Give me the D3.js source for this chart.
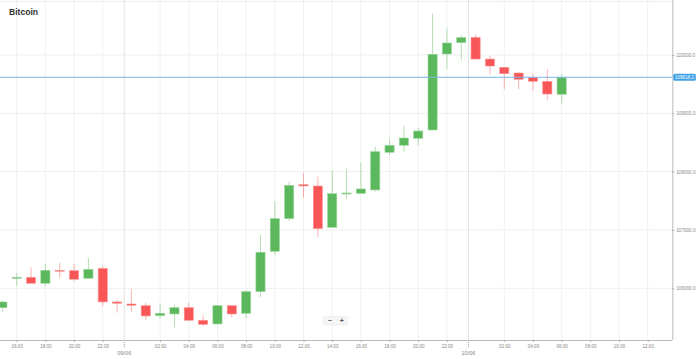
<!DOCTYPE html>
<html>
<head>
<meta charset="utf-8">
<script src="https://cdn.jsdelivr.net/npm/d3@7"></script>
<style>
  body { margin: 0; background: #fff; }
  svg { display: block; font-family: "Liberation Sans", Arial, sans-serif; }
</style>
</head>
<body>
<script>
// hourly candles, 08/06 15:00 -> 10/06 06:00
const times = [
  "2025-06-08T15:00Z", "2025-06-08T16:00Z", "2025-06-08T17:00Z", "2025-06-08T18:00Z", "2025-06-08T19:00Z",
  "2025-06-08T20:00Z", "2025-06-08T21:00Z", "2025-06-08T22:00Z", "2025-06-08T23:00Z",
  "2025-06-09T00:00Z", "2025-06-09T01:00Z", "2025-06-09T02:00Z", "2025-06-09T03:00Z", "2025-06-09T04:00Z",
  "2025-06-09T05:00Z", "2025-06-09T06:00Z", "2025-06-09T07:00Z", "2025-06-09T08:00Z", "2025-06-09T09:00Z",
  "2025-06-09T10:00Z", "2025-06-09T11:00Z", "2025-06-09T12:00Z", "2025-06-09T13:00Z", "2025-06-09T14:00Z",
  "2025-06-09T15:00Z", "2025-06-09T16:00Z", "2025-06-09T17:00Z", "2025-06-09T18:00Z", "2025-06-09T19:00Z",
  "2025-06-09T20:00Z", "2025-06-09T21:00Z", "2025-06-09T22:00Z", "2025-06-09T23:00Z",
  "2025-06-10T00:00Z", "2025-06-10T01:00Z", "2025-06-10T02:00Z", "2025-06-10T03:00Z", "2025-06-10T04:00Z",
  "2025-06-10T05:00Z", "2025-06-10T06:00Z"
]
const open = [
  105668, 106172, 106189, 106086, 106309, 106302, 106172, 106343, 105766,
  105731, 105702, 105531, 105560, 105668, 105452, 105389, 105702, 105572, 105942, 106635, 107194, 107777,
  107754, 107046, 107617, 107629, 107686, 108332, 108452, 108572, 108714, 110017, 110211,
  110303, 109931, 109789, 109691, 109611, 109549, 109326
]
const high = [
  105788, 106258, 106361, 106417, 106439, 106417, 106520, 106383, 105800,
  105983, 105754, 105731, 105719, 105754, 105538, 105709, 105705, 105971, 106914, 107497, 107828, 107982,
  107914, 108017, 108046, 108154, 108428, 108555, 108783, 108754, 110715, 110458, 110343,
  110348, 109983, 109792, 109714, 109674, 109755, 109674
]
const low = [
  105599, 106040, 106080, 106040, 106182, 106121, 106170, 105697, 105582,
  105594, 105457, 105479, 105332, 105435, 105354, 105371, 105503, 105486, 105846, 106571, 107154, 107554,
  106875, 107040, 107531, 107625, 107657, 108286, 108342, 108457, 108710, 109760, 109902,
  109925, 109674, 109412, 109412, 109388, 109229, 109172
]
const close = [
  105766, 106189, 106086, 106309, 106297, 106155, 106326, 105766, 105743,
  105709, 105526, 105572, 105668, 105452, 105383, 105702, 105560, 105942, 106618, 107194, 107766, 107754,
  107022, 107622, 107634, 107703, 108342, 108452, 108577, 108697, 110012, 110206, 110297,
  109931, 109811, 109679, 109583, 109549, 109331, 109618.2
]
const yTicks = [106000, 107000, 108000, 109000, 110000]
const dayBreaks = ["2025-06-08T23:30Z", "2025-06-09T23:30Z"]
const dayLabels = ["09/06", "10/06"]
const lastPrice = 109618.2
const title = "Bitcoin"

const width = 699
const height = 359
const plotRight = 672.3
const plotBottom = 340

const green = "#5cb85c"
const red = "#f95757"

const data = times.map((t, i) => ({
  date: new Date(t), open: open[i], high: high[i], low: low[i], close: close[i]
}))

const x = d3.scaleUtc()
  .domain([new Date("2025-06-08T16:00Z"), new Date("2025-06-10T12:00Z")])
  .range([16.7, 647.7])

const y = d3.scaleLinear()
  .domain([106000, 110000])
  .range([288.3, 55])

const step = x(new Date("2025-06-08T17:00Z")) - x(new Date("2025-06-08T16:00Z"))
const bodyW = step * 0.64

const svg = d3.select("body").append("svg")
  .attr("width", width)
  .attr("height", height)
  .attr("viewBox", [0, 0, width, height])

// grid
const xTickValues = x.ticks(d3.utcHour.every(2)).filter(d => d.getUTCHours() !== 0)

svg.append("g")
  .attr("stroke", "#f1f1f1")
  .selectAll("line")
  .data(xTickValues)
  .join("line")
    .attr("x1", d => x(d)).attr("x2", d => x(d))
    .attr("y1", 0).attr("y2", plotBottom)

svg.append("g")
  .attr("stroke", "#efefef")
  .selectAll("line")
  .data(yTicks)
  .join("line")
    .attr("x1", 0).attr("x2", plotRight)
    .attr("y1", d => y(d)).attr("y2", d => y(d))

svg.append("line")
  .attr("x1", 0).attr("x2", plotRight)
  .attr("y1", 1.5).attr("y2", 1.5)
  .attr("stroke", "#eeeeee")

// day separators
const breaks = dayBreaks.map(d => new Date(d))
svg.append("g")
  .attr("stroke", "#e2e2e2")
  .selectAll("line")
  .data(breaks)
  .join("line")
    .attr("x1", d => x(d)).attr("x2", d => x(d))
    .attr("y1", 0).attr("y2", plotBottom)

svg.append("g")
  .attr("stroke", "#999")
  .attr("stroke-dasharray", "1,1")
  .selectAll("line")
  .data(breaks)
  .join("line")
    .attr("x1", d => x(d)).attr("x2", d => x(d))
    .attr("y1", plotBottom).attr("y2", plotBottom + 8)

svg.append("g")
  .attr("fill", "#888")
  .attr("font-size", 5.6)
  .attr("text-anchor", "middle")
  .selectAll("text")
  .data(breaks)
  .join("text")
    .attr("x", d => x(d))
    .attr("y", plotBottom + 15)
    .text((d, i) => dayLabels[i])

// candles
const candle = svg.append("g")
  .selectAll("g")
  .data(data)
  .join("g")
    .attr("transform", d => `translate(${x(d.date)},0)`)

candle.append("line")
  .attr("y1", d => y(d.high))
  .attr("y2", d => y(d.low))
  .attr("stroke", d => d.close >= d.open ? green : red)
  .attr("stroke-opacity", 0.45)
  .attr("stroke-width", 1)

candle.append("rect")
  .attr("x", -bodyW / 2)
  .attr("width", bodyW)
  .attr("y", d => y(Math.max(d.open, d.close)))
  .attr("height", d => Math.max(1, Math.abs(y(d.open) - y(d.close))))
  .attr("fill", d => d.close >= d.open ? green : red)
  .attr("stroke", d => d.close >= d.open ? "#9ad69a" : "#fb9a9a")
  .attr("stroke-width", 0.6)

// last price line
svg.append("line")
  .attr("x1", 0).attr("x2", plotRight)
  .attr("y1", y(lastPrice)).attr("y2", y(lastPrice))
  .attr("stroke", "#78b6ea")
  .attr("stroke-width", 1)

// axes
const xAxis = svg.append("g")
  .attr("transform", `translate(0,${plotBottom})`)
  .call(d3.axisBottom(x)
    .tickValues(xTickValues)
    .tickFormat(d3.utcFormat("%H:%M"))
    .tickSize(2)
    .tickPadding(3))
xAxis.select(".domain").attr("stroke", "#bbb").attr("d", `M0,0.5H${plotRight}`)
xAxis.selectAll(".tick line").attr("stroke", "#aaa")
xAxis.selectAll(".tick text").attr("fill", "#888").attr("font-size", 4.6).attr("font-family", null)

const yAxis = svg.append("g")
  .attr("transform", `translate(${plotRight},0)`)
  .call(d3.axisRight(y)
    .tickValues(yTicks)
    .tickFormat(d3.format(".1f"))
    .tickSize(2)
    .tickPadding(2))
yAxis.select(".domain").attr("stroke", "#bbb").attr("d", `M0.5,0V${plotBottom}`)
yAxis.selectAll(".tick line").attr("stroke", "#aaa")
yAxis.selectAll(".tick text").attr("fill", "#888").attr("font-size", 4.6).attr("font-family", null)

// last price badge
const badge = svg.append("g")
  .attr("transform", `translate(${plotRight + 1},${y(lastPrice)})`)
badge.append("rect")
  .attr("x", 0).attr("y", -3.5)
  .attr("width", 22.5).attr("height", 7)
  .attr("rx", 1.5)
  .attr("fill", "#3fa2e8")
badge.append("text")
  .attr("x", 11.25).attr("y", 0)
  .attr("dy", "0.35em")
  .attr("text-anchor", "middle")
  .attr("fill", "#fff")
  .attr("font-size", 4.6)
  .text(d3.format(".1f")(lastPrice))

// title
svg.append("text")
  .attr("x", 9).attr("y", 15)
  .attr("font-size", 8.6)
  .attr("font-weight", "bold")
  .attr("fill", "#333")
  .text(title)

// zoom buttons
const zoomCtl = svg.append("g")
  .attr("transform", `translate(${x(new Date("2025-06-09T14:00Z")) - 8.5},316.5)`)
zoomCtl.append("rect")
  .attr("width", 24).attr("height", 8.5)
  .attr("rx", 1.5)
  .attr("fill", "#f6f6f6")
  .attr("stroke", "#e4e4e4")
  .attr("stroke-width", 0.5)
zoomCtl.append("g")
  .attr("fill", "#555")
  .attr("font-size", 7)
  .attr("font-weight", "bold")
  .attr("text-anchor", "middle")
  .selectAll("text")
  .data(["−", "+"])
  .join("text")
    .attr("x", (d, i) => 6 + i * 12)
    .attr("y", 4.25)
    .attr("dy", "0.35em")
    .text(d => d)
</script>
</body>
</html>
